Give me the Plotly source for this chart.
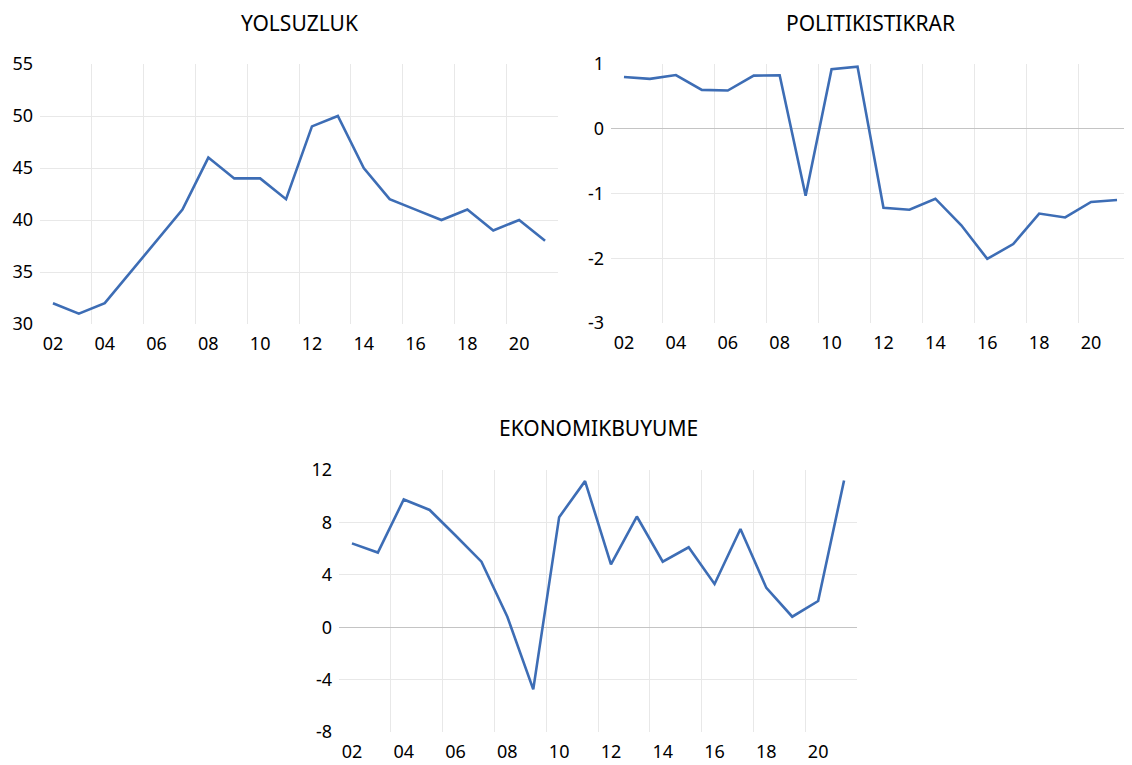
import plotly.graph_objects as go

years = list(range(2002, 2022))
yolsuzluk = [32, 31, 32, 35, 38, 41, 46, 44, 44, 42, 49, 50, 45, 42, 41, 40, 41, 39, 40, 38]
politik = [0.80, 0.77, 0.83, 0.60, 0.59, 0.82, 0.825, -1.035, 0.92, 0.96,
           -1.22, -1.25, -1.08, -1.49, -2.01, -1.78, -1.31, -1.37, -1.13, -1.10]
ekonomi = [6.4, 5.7, 9.75, 8.95, 7.0, 5.0, 0.8, -4.75, 8.4, 11.15,
           4.8, 8.45, 5.0, 6.1, 3.3, 7.5, 3.0, 0.8, 2.0, 11.2]
tick_years = list(range(2002, 2022, 2))
tick_text = ["02", "04", "06", "08", "10", "12", "14", "16", "18", "20"]
titles = ["YOLSUZLUK", "POLITIKISTIKRAR", "EKONOMIKBUYUME"]

# page offset (browser body margin)
OFF = 8
W, H = 1132 - OFF, 765 - OFF
FONT = "Noto Sans"
LINE = "#3d6db5"
GRID = "#e8e8e8"
ZERO = "#c4c4c4"

# mid-year positions for annual observations
xmid = [y + 0.5 for y in years]

fig = go.Figure()
fig.add_trace(go.Scatter(x=xmid, y=yolsuzluk, mode="lines", line=dict(color=LINE, width=2.6),
                         xaxis="x", yaxis="y", showlegend=False))
fig.add_trace(go.Scatter(x=xmid, y=politik, mode="lines", line=dict(color=LINE, width=2.6),
                         xaxis="x2", yaxis="y2", showlegend=False))
fig.add_trace(go.Scatter(x=xmid, y=ekonomi, mode="lines", line=dict(color=LINE, width=2.6),
                         xaxis="x3", yaxis="y3", showlegend=False))


def px_dom(a, b):
    return [(a - OFF) / W, (b - OFF) / W]


def py_dom(top, bottom):
    return [1 - (bottom - OFF) / H, 1 - (top - OFF) / H]


def xax(dom, anchor):
    return dict(
        domain=dom, anchor=anchor, range=[2002, 2022], automargin=False,
        tickmode="array", tickvals=[t + 0.5 for t in tick_years], ticktext=tick_text,
        showgrid=False, zeroline=False, showline=False, ticks="",
        ticklabelstandoff=7,
        tickfont=dict(family=FONT, size=18, color="black"),
        minor=dict(tickmode="array", tickvals=list(range(2004, 2022, 2)),
                   showgrid=True, gridcolor=GRID, gridwidth=1, ticks=""),
        fixedrange=True,
    )


def yax(dom, anchor, rng, dtick, zero):
    lo, hi = rng
    vals = []
    v = lo
    while v <= hi + 1e-9:
        vals.append(v)
        v += dtick
    inner = [v for v in vals[1:-1] if not (zero and abs(v) < 1e-9)]
    return dict(
        domain=dom, anchor=anchor, range=rng, automargin=False,
        tickmode="array", tickvals=vals, ticktext=[str(int(round(v))) for v in vals],
        showgrid=False, zeroline=zero, zerolinecolor=ZERO, zerolinewidth=1.3,
        showline=False, ticks="", ticklabelstandoff=6,
        tickfont=dict(family=FONT, size=18, color="black"),
        minor=dict(tickmode="array", tickvals=inner, showgrid=True, gridcolor=GRID,
                   gridwidth=1, ticks=""),
        fixedrange=True,
    )


def ann(text, px, py, top=False):
    if top:
        return dict(text=text, x=(px - OFF) / W, y=1, xref="paper", yref="paper",
                    showarrow=False, xanchor="center", yanchor="top", borderpad=0,
                    font=dict(family=FONT, size=21, color="black"))
    return dict(text=text, x=(px - OFF) / W, y=1 - (py - OFF) / H, xref="paper", yref="paper",
                showarrow=False, xanchor="center", yanchor="middle", borderpad=0,
                font=dict(family=FONT, size=21, color="black"))


fig.update_layout(
    width=W, height=H,
    margin=dict(l=0, r=0, t=0, b=0, autoexpand=False),
    paper_bgcolor="white", plot_bgcolor="white",
    xaxis=xax(px_dom(40, 558), "y"),
    yaxis=yax(py_dom(64, 324), "x", [30, 55], 5, False),
    xaxis2=xax(px_dom(611, 1130), "y2"),
    yaxis2=yax(py_dom(64, 323), "x2", [-3, 1], 1, True),
    xaxis3=xax(px_dom(339, 857), "y3"),
    yaxis3=yax(py_dom(470, 732), "x3", [-8, 12], 4, True),
    annotations=[
        ann(titles[0], 299, 20, top=True),
        ann(titles[1], 870, 20, top=True),
        ann(titles[2], 598, 428),
    ],
)

fig.write_html("out.html")
